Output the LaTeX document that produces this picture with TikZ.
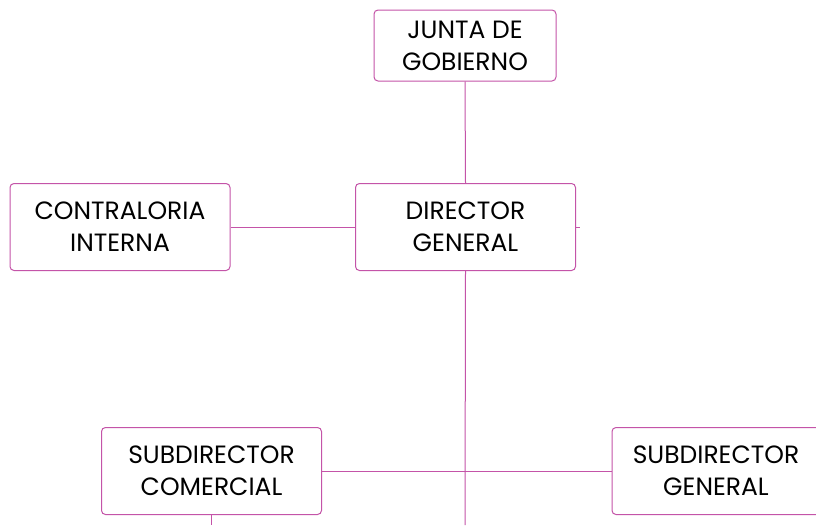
\documentclass[tikz,border=0pt]{standalone}
\usepackage{fontspec}
\setmainfont{Poppins}
\usetikzlibrary{calc}

\definecolor{linea}{RGB}{196,84,168}

\begin{document}
\begin{tikzpicture}[x=1pt,y=-1pt,
  puesto/.style={draw=linea,line width=1pt,rounded corners=4pt,fill=white,
    minimum width=220pt,minimum height=87pt,align=center,inner sep=0pt,
    font=\fontsize{25}{32}\selectfont},
  enlace/.style={draw=linea,line width=1pt}]
\useasboundingbox (0,0) rectangle (816,525);
\clip (0,0) rectangle (816,525);
\fill[white] (0,0) rectangle (816,525);

\node [puesto,minimum width=182pt,minimum height=71pt] (junta) at (465,45.5) {JUNTA DE\\GOBIERNO};
\node [puesto] (contra) at (120,227) {CONTRALORIA\\INTERNA};
\node [puesto] (director) at (465.5,227) {DIRECTOR\\GENERAL};
\node [puesto] (subcom) at (211.5,471) {SUBDIRECTOR\\COMERCIAL};
\node [puesto,minimum width=240pt] (subgen) at (732,471) {SUBDIRECTOR\hspace*{32pt}\\GENERAL\hspace*{32pt}};

\coordinate (lado) at (580,227);
\coordinate (abajo) at (465,525);
\coordinate (baja) at (211,525);

\draw [enlace] (junta.south) -- (director.north);
\draw [enlace] (contra.east) -- (director.west);
\draw [enlace] (director.east) -- (lado);
\draw [enlace] (director.south) -- (abajo);
\draw [enlace] (subcom.east) -- (subgen.west);
\draw [enlace] (subcom.south -| baja) -- (baja);
\end{tikzpicture}
\end{document}
